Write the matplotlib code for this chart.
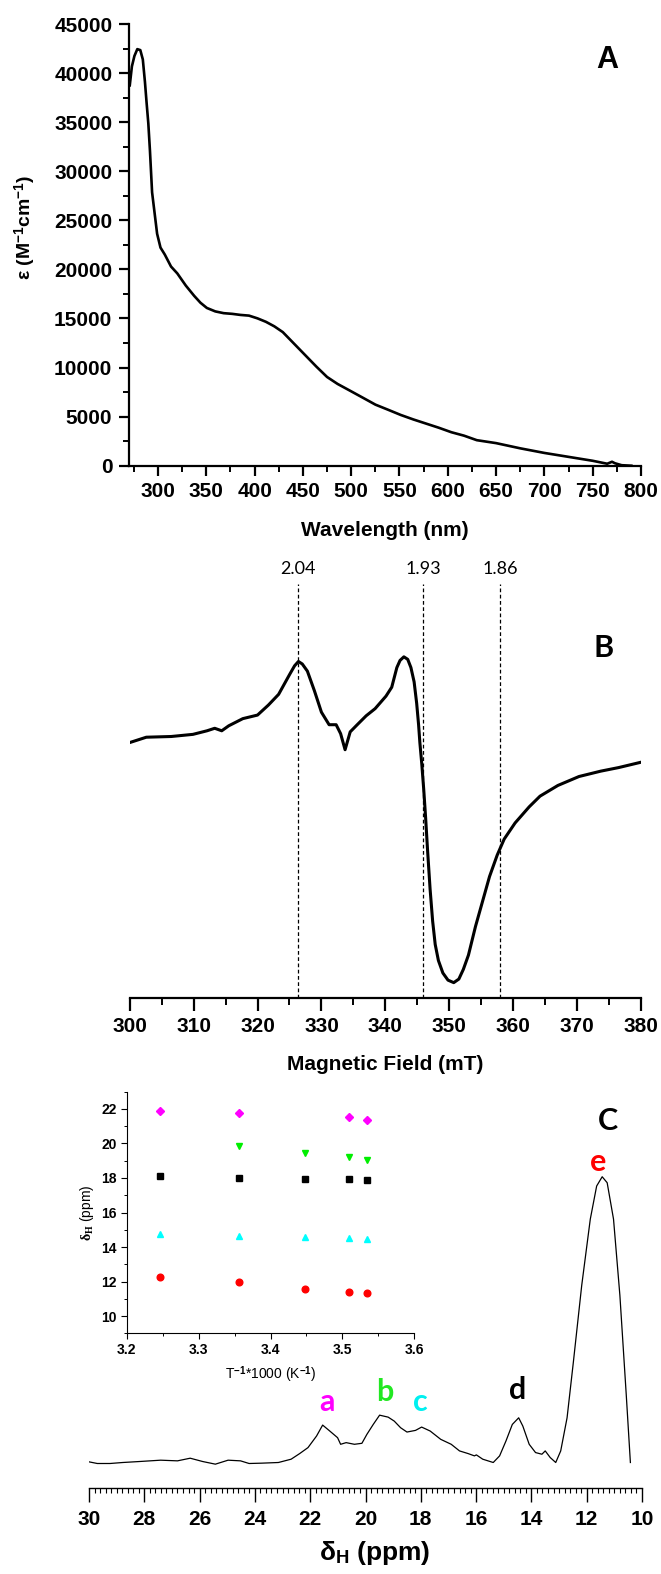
import matplotlib
matplotlib.use("Agg")
import matplotlib.pyplot as plt
from matplotlib.ticker import MultipleLocator

plt.rcParams['font.family'] = ['Liberation Sans', 'DejaVu Sans']
plt.rcParams['font.weight'] = 'bold'
plt.rcParams['mathtext.fontset'] = 'custom'
plt.rcParams['mathtext.rm'] = 'Liberation Serif'
plt.rcParams['mathtext.it'] = 'Liberation Serif:italic'
plt.rcParams['mathtext.bf'] = 'Liberation Sans:bold'

# --- A: UV-vis spectrum ---
uv_nm = [270.8, 273, 275.6, 278.6, 281.7, 284.3, 286.5, 288.2, 290, 291.7, 293.9, 296.5,
         299.1, 302.6, 307, 313.5, 320, 328.8, 337.5, 344, 350.6, 359.3, 368, 376.8,
         385.5, 394.2, 403, 411.7, 420.4, 429.2, 437.9, 446.6, 455.3, 464, 475, 485.9,
         499, 512, 525.1, 538.2, 551.3, 564.4, 577.5, 590.6, 603.7, 616.8, 630, 650,
         675, 700, 725, 750, 765, 770, 773, 780, 790]
uv_eps = [38750, 40680, 41740, 42440, 42340, 41390, 39100, 36990, 34880, 32070, 27850, 25740,
          23630, 22220, 21520, 20290, 19590, 18350, 17300, 16600, 16070, 15720, 15540, 15470,
          15360, 15290, 15010, 14660, 14200, 13610, 12730, 11850, 10970, 10090, 9040, 8330,
          7630, 6930, 6220, 5700, 5170, 4710, 4290, 3870, 3410, 3060, 2600, 2300,
          1770, 1300, 900, 500, 200, 400, 250, 50, 0]

# --- B: EPR spectrum ---
epr_field = [300, 302.6, 306.5, 309.9, 312.1, 313.3, 314.4, 315.5, 317.7, 320.0, 321.7, 323.3,
             325.0, 325.8, 326.4, 327.0, 327.8, 328.9, 330.0, 331.2, 332.3, 333.0, 333.7, 334.5,
             335.6, 337.0, 338.4, 340.1, 341.0, 341.8, 342.3, 342.9, 343.5, 344.0, 344.5, 344.9,
             345.2, 345.4, 345.7, 346.0, 346.3, 346.6, 347.0, 347.4, 347.8, 348.3, 349.0, 349.8,
             350.7, 351.5, 352.2, 353.0, 354.1, 355.2, 356.3, 357.5, 358.6, 360.3, 362.5, 364.2,
             367.0, 370.3, 373.7, 376.5, 380.0]
epr_int = [0, 1.5, 1.7, 2.3, 3.3, 4.0, 3.3, 4.7, 6.7, 7.7, 10.5, 13.5,
           19.0, 21.5, 22.7, 22.0, 20.0, 14.5, 8.5, 5.0, 5.0, 2.5, -2.0, 3.0,
           5.0, 7.5, 9.5, 13.0, 15.5, 21.0, 23.0, 24.0, 23.3, 21.0, 17.0, 11.0,
           5.0, 0.0, -6.0, -13.0, -21.0, -30.0, -41.0, -50.0, -56.5, -61.0, -64.5, -66.5,
           -67.2, -66.2, -63.5, -59.5, -51.5, -44.5, -37.5, -31.5, -27.0, -22.5, -18.0, -15.0,
           -12.0, -9.5, -8.0, -7.0, -5.5]
g_values = ["2.04", "1.93", "1.86"]
g_fields = [326.4, 345.9, 358.0]

# --- C: 1H NMR spectrum ---
nmr_ppm = [30.0, 29.7, 29.24, 28.78, 28.17, 27.41, 26.8, 26.34, 25.89, 25.43, 24.97, 24.52,
           24.21, 23.76, 23.15, 22.69, 22.38, 22.08, 21.77, 21.55, 21.32, 21.01, 20.9, 20.7,
           20.4, 20.13, 19.95, 19.72, 19.49, 19.18, 18.96, 18.73, 18.5, 18.19, 17.97, 17.66,
           17.28, 16.9, 16.6, 16.29, 16.06, 15.99, 15.76, 15.38, 15.15, 14.92, 14.69, 14.46,
           14.31, 14.08, 13.85, 13.62, 13.5, 13.32, 13.12, 12.94, 12.71, 12.48, 12.18, 11.87,
           11.64, 11.44, 11.26, 11.03, 10.8, 10.57, 10.42]
nmr_int = [0.7, 0.2, 0.2, 0.5, 0.8, 1.2, 1.0, 1.8, 0.8, 0.0, 1.2, 1.0,
           0.2, 0.3, 0.5, 1.5, 3.2, 5.0, 8.5, 11.8, 10.2, 8.0, 6.0, 6.5,
           6.0, 6.3, 9.0, 12.0, 14.8, 14.2, 13.0, 11.0, 9.7, 10.2, 11.2, 10.0,
           7.5, 6.0, 4.0, 3.2, 2.5, 2.8, 1.5, 0.5, 2.5, 7.0, 12.0, 14.0,
           11.5, 6.0, 3.5, 3.0, 4.0, 2.0, 0.5, 4.0, 14.0, 31.0, 54.0, 74.0,
           84.0, 86.8, 85.0, 74.0, 51.0, 21.0, 0.5]
peak_labels = ["a", "b", "c", "d", "e"]
peak_colors = ["#ff00ff", "#22e822", "#00f0f0", "black", "#ff0000"]
peak_ppm = [21.4, 19.3, 18.0, 14.5, 11.6]

# inset: chemical shift vs 1000/T
inv_T = [3.247, 3.356, 3.448, 3.509, 3.534]
shift_a = [21.9, 21.75, None, 21.52, 21.37]
shift_b = [None, 19.86, 19.47, 19.24, 19.05]
shift_d = [18.12, 18.0, 17.94, 17.94, 17.88]
shift_c = [14.75, 14.62, 14.57, 14.5, 14.44]
shift_e = [12.26, 11.95, 11.58, 11.41, 11.31]

W, H = 661, 1574
fig = plt.figure(figsize=(W / 100, H / 100), dpi=100)


def box(left, top, right, bottom):
    # pixel box -> figure fraction
    return [left / W, 1 - bottom / H, (right - left) / W, (bottom - top) / H]


def only_spines(ax, keep):
    for s in ["left", "right", "top", "bottom"]:
        ax.spines[s].set_visible(s in keep)


# ---------------- A ----------------
axA = fig.add_axes(box(129, 24, 641, 465.7))
axA.plot(uv_nm, uv_eps, color="black", lw=1.9)
axA.set_xlim(270, 800)
axA.set_ylim(0, 45000)
only_spines(axA, ["left", "bottom"])
for s in ["left", "bottom"]:
    axA.spines[s].set_linewidth(1.6)
axA.xaxis.set_major_locator(MultipleLocator(50))
axA.xaxis.set_minor_locator(MultipleLocator(25))
axA.yaxis.set_major_locator(MultipleLocator(5000))
axA.yaxis.set_minor_locator(MultipleLocator(2500))
axA.tick_params(which="major", length=7, width=1.6, labelsize=15, pad=5)
axA.tick_params(which="minor", length=4, width=1.4)
axA.set_xticks([300, 350, 400, 450, 500, 550, 600, 650, 700, 750, 800])
fig.text(385 / W, 1 - 530 / H, "Wavelength (nm)", ha="center", va="center", fontsize=15)
fig.text(25 / W, 1 - 227 / H, r"ε (M$^{\mathbf{-1}}$cm$^{\mathbf{-1}}$)", rotation=90,
         ha="center", va="center", fontsize=14)
fig.text(607 / W, 1 - 60 / H, "A", ha="center", va="center", fontsize=22)

# ---------------- B ----------------
axB = fig.add_axes(box(129.7, 583.6, 641, 998))
axB.plot(epr_field, epr_int, color="black", lw=2.2)
axB.set_xlim(300, 380)
axB.set_ylim(-71.5, 44.5)
only_spines(axB, ["bottom"])
axB.spines["bottom"].set_linewidth(1.6)
axB.set_yticks([])
axB.xaxis.set_major_locator(MultipleLocator(10))
axB.xaxis.set_minor_locator(MultipleLocator(5))
axB.tick_params(which="major", length=9, width=1.6, labelsize=15, pad=5)
axB.tick_params(which="minor", length=5, width=1.4)
for g, f in zip(g_values, g_fields):
    axB.axvline(f, color="black", lw=0.9, ls=(0, (3, 2)))
    axB.text(f, 1.036, g, transform=axB.get_xaxis_transform(), ha="center", va="center",
             fontsize=13, fontweight="normal", family=["Lato", "DejaVu Sans"])
fig.text(385 / W, 1 - 1064.5 / H, "Magnetic Field (mT)", ha="center", va="center", fontsize=15)
fig.text(604 / W, 1 - 648 / H, "B", ha="center", va="center", fontsize=22,
         family=["Lato", "DejaVu Sans"])

# ---------------- C ----------------
axC = fig.add_axes(box(89, 1090, 642, 1488))
axC.plot(nmr_ppm, nmr_int, color="black", lw=0.9)
axC.set_xlim(30, 10)
axC.set_ylim(-7.2, 113)
only_spines(axC, ["bottom"])
axC.spines["bottom"].set_linewidth(1.0)
axC.set_yticks([])
axC.xaxis.set_major_locator(MultipleLocator(2))
axC.xaxis.set_minor_locator(MultipleLocator(0.2))
axC.tick_params(which="major", length=10, width=1.0, labelsize=15, pad=6)
axC.tick_params(which="minor", length=3.5, width=0.8)
peak_y = [1401.7, 1391.7, 1401.7, 1389.6, 1162]
for lab, col, p, py in zip(peak_labels, peak_colors, peak_ppm, peak_y):
    axC.text(p, 1 - (py - 1090) / (1488 - 1090), lab, transform=axC.get_xaxis_transform(),
             color=col, ha="center", va="center", fontsize=22, family=["Lato", "DejaVu Sans"])
fig.text(608 / W, 1 - 1121 / H, "C", ha="center", va="center", fontsize=22,
         family=["Lato", "DejaVu Sans"])
fig.text(375 / W, 1 - 1553 / H, r"δ$_\mathbf{H}$ (ppm)", ha="center", va="center", fontsize=19)

# inset
axI = fig.add_axes(box(126.7, 1091.7, 414.3, 1333.3))
series = [(shift_a, "D", "#ff00ff"), (shift_b, "v", "#00ee00"), (shift_d, "s", "black"),
          (shift_c, "^", "#00ffff"), (shift_e, "o", "#ff0000")]
for ys, m, c in series:
    xs = [x for x, y in zip(inv_T, ys) if y is not None]
    yv = [y for y in ys if y is not None]
    axI.plot(xs, yv, ls="none", marker=m, color=c, ms=4.8 if m != "D" else 4.2)
axI.set_xlim(3.2, 3.6)
axI.set_ylim(9, 23)
only_spines(axI, ["left", "bottom"])
axI.xaxis.set_major_locator(MultipleLocator(0.1))
axI.xaxis.set_minor_locator(MultipleLocator(0.05))
axI.yaxis.set_major_locator(MultipleLocator(2))
axI.yaxis.set_minor_locator(MultipleLocator(1))
axI.set_yticks([10, 12, 14, 16, 18, 20, 22])
axI.tick_params(which="major", length=4, width=0.8, labelsize=10, pad=3)
axI.tick_params(which="minor", length=2, width=0.7)
axI.set_xlabel(r"T$^{\mathbf{-1}}$*1000 (K$^{\mathbf{-1}}$)", fontsize=10, labelpad=5)
axI.set_ylabel(r"$\mathrm{\delta_H}$ (ppm)", fontsize=10, labelpad=4)

fig.savefig("out.png", dpi=100)
